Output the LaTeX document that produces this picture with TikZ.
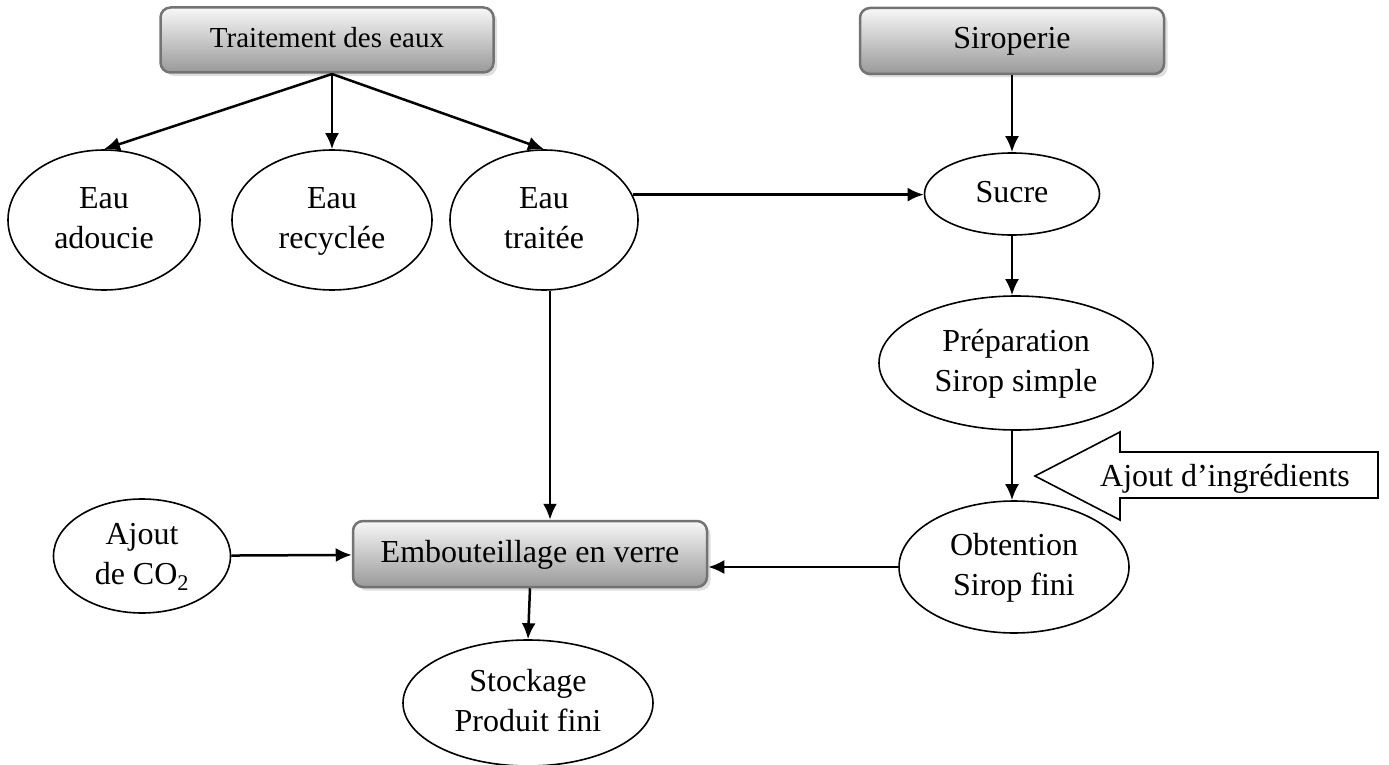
\documentclass[tikz,border=0pt]{standalone}
\usepackage{fontspec}
\setmainfont{Liberation Serif}
\usetikzlibrary{shadows,arrows.meta,shapes.geometric,positioning,calc}

\begin{document}
\begin{tikzpicture}
[x=1pt,y=-1pt,
txt/.style={font=\fontsize{32}{40}\selectfont,align=center,inner sep=0pt},
stepbox/.style={txt,shape=rectangle,rounded corners=10pt,draw=black!55,line width=2.5pt,
  top color=black!3,bottom color=black!40,
  drop shadow={shadow xshift=3.5pt,shadow yshift=-3.5pt,opacity=0.25}},
item/.style={txt,shape=ellipse,draw=black,line width=1.6pt},
myedge/.style={line width=2.5pt,>={Latex[length=16pt,width=14pt]},->},
bigarrow/.style={draw=black,line width=1.6pt,line join=miter}]

\useasboundingbox (0,0) rectangle (1389,765);

% top boxes
\node (trait) [stepbox,font=\fontsize{29}{40}\selectfont,minimum width=333pt,minimum height=65pt] at (327,40) {\strut Traitement des eaux};
\node (sirop) [stepbox,minimum width=304pt,minimum height=66pt] at (1012,41) {\strut Siroperie};

% water branch
\node (adouc) [item,minimum width=192pt,minimum height=140pt] at (104,220) {\strut Eau\\adoucie\strut};
\node (recyc) [item,minimum width=200pt,minimum height=140pt] at (332,220) {\strut Eau\\recyclée\strut};
\node (traitee) [item,minimum width=188pt,minimum height=140pt] at (544,220) {\strut Eau\\traitée\strut};
\coordinate (split) at (332,74);
\draw[myedge] (split) -- (adouc.north);
\draw[myedge] (split) -- (recyc.north);
\draw[myedge] (split) -- (traitee.north);

% syrup branch
\node (sucre) [item,minimum width=175pt,minimum height=82pt] at (1012,194) {\strut Sucre};
\node (prep) [item,minimum width=274pt,minimum height=134pt] at (1016,363) {\strut Préparation\\Sirop simple\strut};
\node (obt) [item,minimum width=230pt,minimum height=132pt] at (1014,567) {\strut Obtention\\Sirop fini\strut};
\draw[myedge] (sirop) -- (sucre);
\draw[myedge] (traitee.16) -- (traitee.16 -| sucre.west);
\draw[myedge] (sucre.south) -- (sucre.south |- prep.north);
\draw[myedge] (prep.south -| sucre.south) -- (sucre.south |- obt.north);

% ingredients
\draw[bigarrow] (1035,476) -- (1120,432) -- (1120,452) -- (1378,452)
-- (1378,498) -- (1120,498) -- (1120,520) -- cycle;
\node (ingr) [txt] at (1225,478) {\strut Ajout d’ingrédients};

% bottling
\node (embout) [stepbox,minimum width=354pt,minimum height=66pt] at (530,554) {\strut Embouteillage en verre};
\node (co2) [item,minimum width=177pt,minimum height=114pt] at (142,556) {\strut Ajout\\de CO\textsubscript{2}\strut};
\node (stock) [item,minimum width=250pt,minimum height=126pt] at (528,703) {\strut Stockage\\Produit fini\strut};
\coordinate (down) at ($(traitee.south)+(6,0)$);
\draw[myedge] (down) -- (down |- embout.north);
\draw[myedge] (co2) -- (embout);
\draw[myedge] (obt.west) -- (obt.west -| embout.east);
\draw[myedge] (embout.south) -- (stock.north);

\end{tikzpicture}
\end{document}
